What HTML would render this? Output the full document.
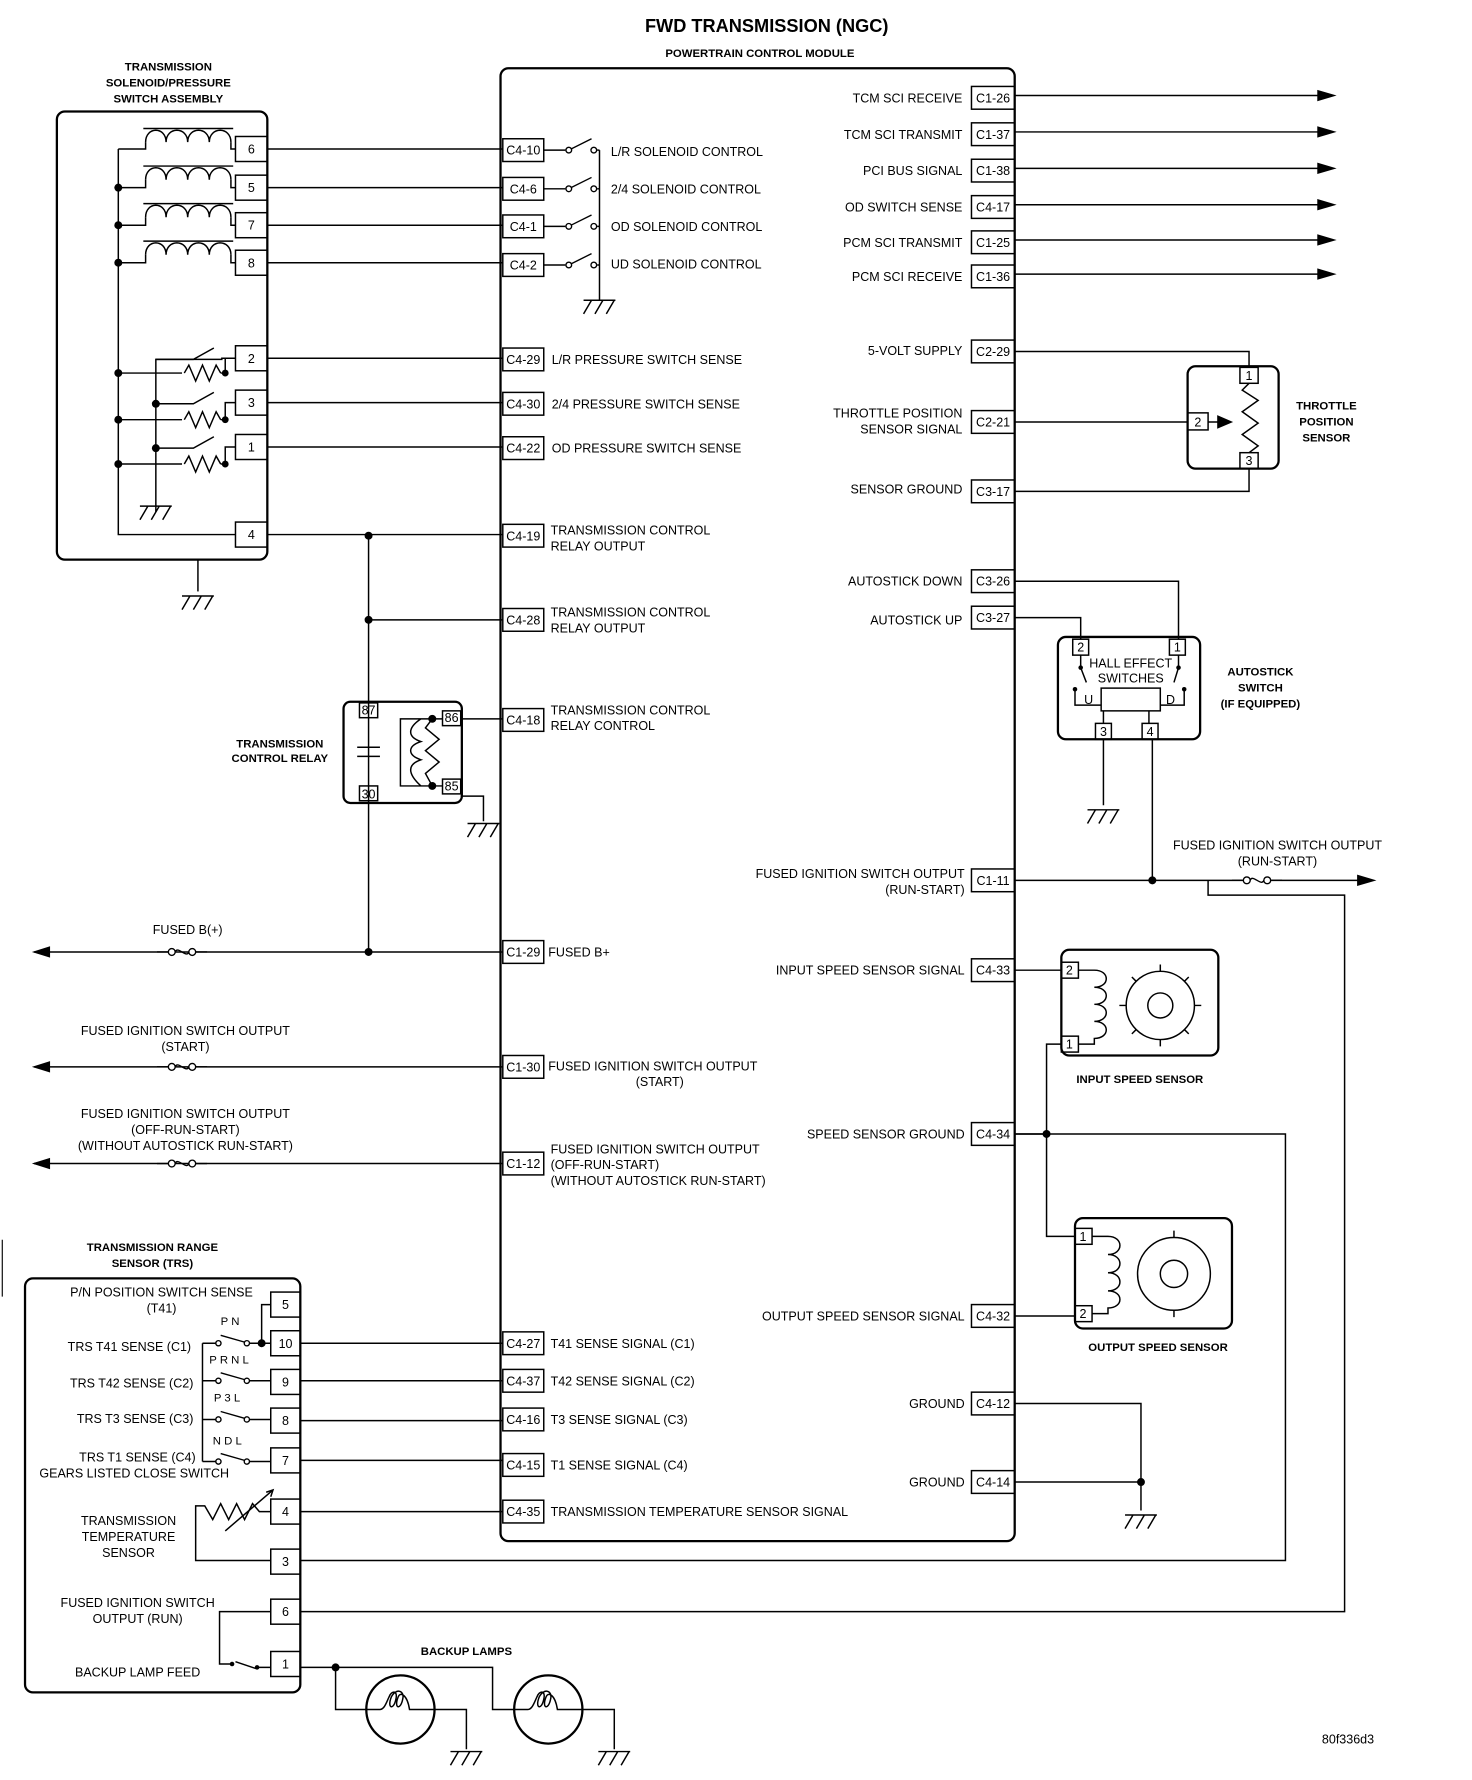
<!DOCTYPE html>
<html><head><meta charset="utf-8"><style>
html,body{margin:0;padding:0;background:#fff}
svg{display:block}
text{font-family:"Liberation Sans",sans-serif;font-size:11px;fill:#000}
.b{font-weight:bold;font-size:10.5px}
.r{text-anchor:end}.m{text-anchor:middle}
</style></head><body>
<svg width="1472" height="1780" viewBox="0 0 1294 1565" preserveAspectRatio="none" xmlns="http://www.w3.org/2000/svg">
<defs>
<g id="gnd" fill="none" stroke="#000" stroke-width="1.3"><path d="M-14 0H14M-14 12L-7 0M-4 12L3 0M6 12L13 0"/></g>
<g id="fuse" fill="none" stroke="#000" stroke-width="1.2"><circle cx="-9" cy="0" r="3" fill="#fff"/><circle cx="9" cy="0" r="3" fill="#fff"/><path d="M-22 0H-12M12 0H22M-6 0C-4 -6 4 6 6 0"/></g>
<g id="coil" fill="none" stroke="#000" stroke-width="1.3"><path d="M0 0C0 -14 18 -14 18 0C18 -14 37 -14 37 0C37 -14 56 -14 56 0C56 -14 75 -14 75 0M-2 -12H77"/></g>
<g id="res" fill="none" stroke="#000" stroke-width="1.3"><path d="M0 0L4 -7L10 7L16 -7L22 7L28 -7L32 0"/></g>
<g id="sw" fill="none" stroke="#000" stroke-width="1.2"><circle cx="0" cy="0" r="2.5" fill="#fff"/><circle cx="22" cy="0" r="2.5" fill="#fff"/><path d="M2 -1L20 -10"/></g>
<g id="tsw" fill="none" stroke="#000" stroke-width="1.2"><circle cx="0" cy="0" r="2.3" fill="#fff"/><circle cx="25" cy="0" r="2.3" fill="#fff"/><path d="M2 -7L23 -1"/></g>
</defs>
<text x="674" y="28" class="m" style="font-weight:bold;font-size:16px">FWD TRANSMISSION (NGC)</text>
<text x="668" y="50" class="m b" style="font-size:10px">POWERTRAIN CONTROL MODULE</text>
<text x="148" y="62" class="m b" style="font-size:10px">TRANSMISSION</text>
<text x="148" y="76" class="m b" style="font-size:10px">SOLENOID/PRESSURE</text>
<text x="148" y="90" class="m b" style="font-size:10px">SWITCH ASSEMBLY</text>

<g fill="none" stroke="#000" stroke-width="1.3">
<rect x="440" y="60" width="452" height="1295" rx="7" stroke-width="2"/>
<rect x="50" y="98" width="185" height="394" rx="7" stroke-width="2"/>
<rect x="207" y="120" width="28" height="22"/><rect x="207" y="154" width="28" height="22"/><rect x="207" y="187" width="28" height="22"/><rect x="207" y="220" width="28" height="22"/>
<rect x="207" y="304" width="28" height="22"/><rect x="207" y="343" width="28" height="22"/><rect x="207" y="382" width="28" height="22"/><rect x="207" y="459" width="28" height="22"/>
<use href="#coil" x="128" y="125"/><use href="#coil" x="128" y="158"/><use href="#coil" x="128" y="191"/><use href="#coil" x="128" y="224"/>
<path d="M104 131V470H207M104 131H128V125M203 125V131H207M104 165H128V158M203 158V165H207M104 198H128V191M203 191V198H207M104 231H128V224M203 224V231H207"/>
<path d="M104 328H160M104 369H160M104 408H160M137 328V450M137 369H160M137 328V316H195V315H207M160 328"/>
<use href="#res" x="162" y="328"/><use href="#res" x="162" y="369"/><use href="#res" x="162" y="408"/>
<path d="M194 328H198V315M194 369H198V354H207M194 408H198V393H207M137 316H170L188 306M137 355H170L188 345M137 394H170L188 384M198 315H207"/>
<use href="#gnd" x="137" y="445"/>
<path d="M174 492V520"/><use href="#gnd" x="174" y="524"/>
<path d="M235 131H442M235 165H442M235 198H442M235 231H442M235 315H442M235 354H442M235 393H442M235 470H442"/>
</g>
<g fill="#000"><circle cx="104" cy="165" r="3.5"/><circle cx="104" cy="198" r="3.5"/><circle cx="104" cy="231" r="3.5"/><circle cx="104" cy="328" r="3.5"/><circle cx="104" cy="369" r="3.5"/><circle cx="104" cy="408" r="3.5"/><circle cx="137" cy="355" r="3.5"/><circle cx="137" cy="394" r="3.5"/><circle cx="198" cy="328" r="3"/><circle cx="198" cy="369" r="3"/><circle cx="198" cy="408" r="3"/><circle cx="324" cy="471" r="3.5"/><circle cx="324" cy="545" r="3.5"/><circle cx="324" cy="837" r="3.5"/></g>
<g font-size="10"><text x="221" y="135" class="m">6</text><text x="221" y="169" class="m">5</text><text x="221" y="202" class="m">7</text><text x="221" y="235" class="m">8</text><text x="221" y="319" class="m">2</text><text x="221" y="358" class="m">3</text><text x="221" y="397" class="m">1</text><text x="221" y="474" class="m">4</text></g>

<g fill="none" stroke="#000" stroke-width="1.3">
<rect x="442" y="122" width="36" height="20"/><rect x="442" y="156" width="36" height="20"/><rect x="442" y="189" width="36" height="20"/><rect x="442" y="223" width="36" height="20"/>
<rect x="442" y="306" width="36" height="20"/><rect x="442" y="345" width="36" height="20"/><rect x="442" y="384" width="36" height="20"/><rect x="442" y="461" width="36" height="20"/>
<rect x="442" y="535" width="36" height="20"/><rect x="442" y="623" width="36" height="20"/><rect x="442" y="827" width="36" height="20"/><rect x="442" y="928" width="36" height="20"/>
<rect x="442" y="1013" width="36" height="20"/><rect x="442" y="1171" width="36" height="20"/><rect x="442" y="1204" width="36" height="20"/><rect x="442" y="1238" width="36" height="20"/>
<rect x="442" y="1278" width="36" height="20"/><rect x="442" y="1319" width="36" height="20"/>
<use href="#sw" x="500" y="132"/><use href="#sw" x="500" y="166"/><use href="#sw" x="500" y="199"/><use href="#sw" x="500" y="233"/>
<path d="M478 132H497M478 166H497M478 199H497M478 233H497M525 132H527M525 166H527M525 199H527M525 233H527M527 132V264"/>
<use href="#gnd" x="527" y="264"/>
</g>
<g font-size="10"><text x="460" y="136" class="m">C4-10</text><text x="460" y="170" class="m">C4-6</text><text x="460" y="203" class="m">C4-1</text><text x="460" y="237" class="m">C4-2</text><text x="460" y="320" class="m">C4-29</text><text x="460" y="359" class="m">C4-30</text><text x="460" y="398" class="m">C4-22</text><text x="460" y="475" class="m">C4-19</text><text x="460" y="549" class="m">C4-28</text><text x="460" y="637" class="m">C4-18</text><text x="460" y="841" class="m">C1-29</text><text x="460" y="942" class="m">C1-30</text><text x="460" y="1027" class="m">C1-12</text><text x="460" y="1185" class="m">C4-27</text><text x="460" y="1218" class="m">C4-37</text><text x="460" y="1252" class="m">C4-16</text><text x="460" y="1292" class="m">C4-15</text><text x="460" y="1333" class="m">C4-35</text></g>
<text x="537" y="137">L/R SOLENOID CONTROL</text><text x="537" y="170">2/4 SOLENOID CONTROL</text><text x="537" y="203">OD SOLENOID CONTROL</text><text x="537" y="236">UD SOLENOID CONTROL</text>
<text x="485" y="320">L/R PRESSURE SWITCH SENSE</text><text x="485" y="359">2/4 PRESSURE SWITCH SENSE</text><text x="485" y="398">OD PRESSURE SWITCH SENSE</text>
<text x="484" y="470">TRANSMISSION CONTROL</text><text x="484" y="484">RELAY OUTPUT</text>
<text x="484" y="542">TRANSMISSION CONTROL</text><text x="484" y="556">RELAY OUTPUT</text>
<text x="484" y="628">TRANSMISSION CONTROL</text><text x="484" y="642">RELAY CONTROL</text>
<text x="482" y="841">FUSED B+</text>
<text x="482" y="941">FUSED IGNITION SWITCH OUTPUT</text><text x="580" y="955" class="m">(START)</text>
<text x="484" y="1014">FUSED IGNITION SWITCH OUTPUT</text><text x="484" y="1028">(OFF-RUN-START)</text><text x="484" y="1042">(WITHOUT AUTOSTICK RUN-START)</text>
<text x="484" y="1185">T41 SENSE SIGNAL (C1)</text><text x="484" y="1218">T42 SENSE SIGNAL (C2)</text><text x="484" y="1252">T3 SENSE SIGNAL (C3)</text><text x="484" y="1292">T1 SENSE SIGNAL (C4)</text><text x="484" y="1333">TRANSMISSION TEMPERATURE SENSOR SIGNAL</text>

<g fill="none" stroke="#000" stroke-width="1.3">
<path d="M324 471V837M324 545H442M30 837H442M30 938H442M30 1023H442"/>
<rect x="302" y="617" width="104" height="89" rx="6" stroke-width="2"/>
<rect x="316" y="618" width="16" height="13"/><rect x="316" y="691" width="16" height="13"/><rect x="389" y="625" width="16" height="13"/><rect x="389" y="685" width="16" height="13"/>
<path d="M314 657H334M314 665H334"/>
<path d="M380 632H389M380 691H389M380 632H352V691H380M370 632C358 640 358 648 370 652C358 656 358 664 370 668C358 672 358 680 370 691"/>
<path d="M380 632L374 640L386 650L374 660L386 670L374 680L380 691"/>
<path d="M405 632H442M405 700H425V722"/>
<use href="#gnd" x="425" y="724"/>
<use href="#fuse" x="160" y="837"/><use href="#fuse" x="160" y="938"/><use href="#fuse" x="160" y="1023"/>
</g>
<g fill="#000"><circle cx="380" cy="632" r="3.5"/><circle cx="380" cy="691" r="3.5"/>
<path d="M28 837L44 832V842Z"/><path d="M28 938L44 933V943Z"/><path d="M28 1023L44 1018V1028Z"/></g>
<g font-size="9"><text x="324" y="628" class="m">87</text><text x="324" y="702" class="m">30</text><text x="397" y="635" class="m">86</text><text x="397" y="695" class="m">85</text></g>
<text x="246" y="657" class="m b" style="font-size:10px">TRANSMISSION</text><text x="246" y="670" class="m b" style="font-size:10px">CONTROL RELAY</text>
<text x="165" y="821" class="m">FUSED B(+)</text>
<text x="163" y="910" class="m">FUSED IGNITION SWITCH OUTPUT</text><text x="163" y="924" class="m">(START)</text>
<text x="163" y="983" class="m">FUSED IGNITION SWITCH OUTPUT</text><text x="163" y="997" class="m">(OFF-RUN-START)</text><text x="163" y="1011" class="m">(WITHOUT AUTOSTICK RUN-START)</text>

<!-- TRS -->
<text x="134" y="1100" class="m b" style="font-size:10px">TRANSMISSION RANGE</text><text x="134" y="1114" class="m b" style="font-size:10px">SENSOR (TRS)</text>
<g fill="none" stroke="#000" stroke-width="1.3">
<path d="M2 1090V1140" stroke-width="1"/>
<rect x="22" y="1124" width="242" height="364" rx="7" stroke-width="2"/>
<rect x="238" y="1136" width="26" height="22"/><rect x="238" y="1170" width="26" height="22"/><rect x="238" y="1204" width="26" height="22"/><rect x="238" y="1238" width="26" height="22"/><rect x="238" y="1273" width="26" height="22"/><rect x="238" y="1318" width="26" height="22"/><rect x="238" y="1362" width="26" height="22"/><rect x="238" y="1406" width="26" height="22"/><rect x="238" y="1452" width="26" height="22"/>
<path d="M238 1147H230V1181"/>
<path d="M178 1181V1285M178 1181H190M178 1214H190M178 1248H190M178 1285H190"/>
<use href="#tsw" x="192" y="1181"/><use href="#tsw" x="192" y="1214"/><use href="#tsw" x="192" y="1248"/><use href="#tsw" x="192" y="1285"/>
<path d="M219 1181H238M219 1214H238M219 1248H238M219 1285H238"/>
<path d="M264 1181H442M264 1214H442M264 1249H442M264 1284H442M264 1329H442"/>
<path d="M238 1329H228L222 1322L215 1336L208 1322L201 1336L194 1322L187 1336L180 1324H172V1372H238"/>
<path d="M198 1346L240 1310" /><path d="M234 1312L240 1310L238 1316"/>
<path d="M264 1372H1130V997H892M264 1417H1182V787H1062V774"/>
<path d="M238 1417H193V1463H203M207 1461L225 1467M226 1466H238"/>
<path d="M264 1466H433V1503H452M295 1466V1503H322M382 1503H410V1538M512 1503H540V1538"/>
<circle cx="352" cy="1503" r="30" stroke-width="2"/><circle cx="482" cy="1503" r="30" stroke-width="2"/>
<path d="M322 1503H334C338 1503 340 1496 342 1492C344 1486 350 1486 348 1494C346 1504 340 1502 344 1492C348 1484 356 1486 354 1494C352 1504 346 1502 350 1492C352 1487 358 1490 360 1503H382"/>
<path d="M452 1503H464C468 1503 470 1496 472 1492C474 1486 480 1486 478 1494C476 1504 470 1502 474 1492C478 1484 486 1486 484 1494C482 1504 476 1502 480 1492C482 1487 488 1490 490 1503H512"/>
<use href="#gnd" x="410" y="1540"/><use href="#gnd" x="540" y="1540"/>
</g>
<g fill="#000"><circle cx="230" cy="1181" r="3.5"/><circle cx="295" cy="1466" r="3.5"/><circle cx="204" cy="1463" r="2"/><circle cx="226" cy="1466" r="2"/></g>
<g font-size="10"><text x="251" y="1151" class="m">5</text><text x="251" y="1185" class="m">10</text><text x="251" y="1219" class="m">9</text><text x="251" y="1253" class="m">8</text><text x="251" y="1288" class="m">7</text><text x="251" y="1333" class="m">4</text><text x="251" y="1377" class="m">3</text><text x="251" y="1421" class="m">6</text><text x="251" y="1467" class="m">1</text></g>
<text x="142" y="1140" class="m">P/N POSITION SWITCH SENSE</text><text x="142" y="1154" class="m">(T41)</text>
<text x="194" y="1165" style="font-size:10px">P N</text><text x="184" y="1199" style="font-size:10px">P R N L</text><text x="188" y="1232" style="font-size:10px">P 3 L</text><text x="187" y="1270" style="font-size:10px">N D L</text>
<text x="168" y="1188" class="r">TRS T41 SENSE (C1)</text><text x="170" y="1220" class="r">TRS T42 SENSE (C2)</text><text x="170" y="1251" class="r">TRS T3 SENSE (C3)</text><text x="172" y="1285" class="r">TRS T1 SENSE (C4)</text>
<text x="118" y="1299" class="m">GEARS LISTED CLOSE SWITCH</text>
<text x="113" y="1341" class="m">TRANSMISSION</text><text x="113" y="1355" class="m">TEMPERATURE</text><text x="113" y="1369" class="m">SENSOR</text>
<text x="121" y="1413" class="m">FUSED IGNITION SWITCH</text><text x="121" y="1427" class="m">OUTPUT (RUN)</text>
<text x="121" y="1474" class="m">BACKUP LAMP FEED</text>
<text x="410" y="1455" class="m b" style="font-size:10px">BACKUP LAMPS</text>
<text x="1185" y="1533" class="m">80f336d3</text>

<g fill="none" stroke="#000" stroke-width="1.3">
<rect x="854" y="76" width="38" height="20"/><rect x="854" y="108" width="38" height="20"/><rect x="854" y="140" width="38" height="20"/><rect x="854" y="172" width="38" height="20"/><rect x="854" y="203" width="38" height="20"/><rect x="854" y="233" width="38" height="20"/>
<rect x="854" y="299" width="38" height="20"/><rect x="854" y="361" width="38" height="20"/><rect x="854" y="422" width="38" height="20"/><rect x="854" y="501" width="38" height="20"/><rect x="854" y="533" width="38" height="20"/><rect x="854" y="764" width="38" height="20"/>
<rect x="854" y="843" width="38" height="20"/><rect x="854" y="987" width="38" height="20"/><rect x="854" y="1147" width="38" height="20"/><rect x="854" y="1224" width="38" height="20"/><rect x="854" y="1293" width="38" height="20"/>
<path d="M892 84H1160M892 116H1160M892 148H1160M892 180H1160M892 211H1160M892 241H1160"/>
<path d="M892 309H1098V323M892 371H1044M892 432H1098V412M892 511H1036V562M892 543H950V562M970 650V708M1013 650V774M892 774H1095M1115 774H1195M892 853H933M892 997H920M920 997V918H933M920 997V1087H945M892 1157H945M892 1234H1003V1328M892 1303H1003"/>
<use href="#gnd" x="970" y="712"/><use href="#gnd" x="1003" y="1332"/>
<use href="#fuse" x="1105" y="774"/>
<rect x="1044" y="322" width="80" height="90" rx="7" stroke-width="2"/>
<rect x="1090" y="323" width="16" height="14"/><rect x="1090" y="398" width="16" height="14"/><rect x="1044" y="363" width="18" height="15"/>
<path d="M1098 337L1092 343L1106 352L1092 362L1106 372L1092 382L1106 392L1098 398M1062 371H1082"/>
<rect x="930" y="560" width="125" height="90" rx="7" stroke-width="2"/>
<rect x="943" y="562" width="14" height="14"/><rect x="1028" y="562" width="14" height="14"/><rect x="963" y="636" width="14" height="14"/><rect x="1004" y="636" width="14" height="14"/>
<rect x="968" y="605" width="52" height="20"/>
<path d="M950 576V587L955 600M1036 576V587L1032 600M945 606V620H968M1041 606V620H1020M970 625V636M1010 625V636"/>
<rect x="933" y="835" width="138" height="93" rx="7" stroke-width="2"/>
<rect x="933" y="846" width="15" height="14"/><rect x="933" y="911" width="15" height="14"/>
<path d="M948 853H962C976 853 976 868 962 868C976 868 976 883 962 883C976 883 976 898 962 898C976 898 976 913 962 913V918H948"/>
<circle cx="1020" cy="884" r="30"/><circle cx="1020" cy="884" r="11"/>
<path d="M1020 848V854M1020 914V920M984 884H990M1050 884H1056M995 859L999 863M1045 859L1041 863M995 909L999 905M1045 909L1041 905"/>
<rect x="945" y="1071" width="138" height="97" rx="7" stroke-width="2"/>
<rect x="945" y="1080" width="15" height="14"/><rect x="945" y="1148" width="15" height="14"/>
<path d="M960 1087H974C988 1087 988 1103 974 1103C988 1103 988 1119 974 1119C988 1119 988 1135 974 1135C988 1135 988 1150 974 1150V1155H960"/>
<circle cx="1032" cy="1120" r="32"/><circle cx="1032" cy="1120" r="12"/>
<path d="M1032 1082V1088M1032 1152V1158"/>
</g>
<g fill="#000">
<path d="M1175 84L1158 79V89Z"/><path d="M1175 116L1158 111V121Z"/><path d="M1175 148L1158 143V153Z"/><path d="M1175 180L1158 175V185Z"/><path d="M1175 211L1158 206V216Z"/><path d="M1175 241L1158 236V246Z"/>
<path d="M1210 774L1193 769V779Z"/><path d="M1084 371L1070 365V377Z"/>
<circle cx="1013" cy="774" r="3.5"/><circle cx="920" cy="997" r="3.5"/><circle cx="1003" cy="1303" r="3.5"/>
<circle cx="950" cy="587" r="2"/><circle cx="1036" cy="587" r="2"/><circle cx="945" cy="606" r="2"/><circle cx="1041" cy="606" r="2"/>
</g>
<g font-size="10"><text x="873" y="90" class="m">C1-26</text><text x="873" y="122" class="m">C1-37</text><text x="873" y="154" class="m">C1-38</text><text x="873" y="186" class="m">C4-17</text><text x="873" y="217" class="m">C1-25</text><text x="873" y="247" class="m">C1-36</text><text x="873" y="313" class="m">C2-29</text><text x="873" y="375" class="m">C2-21</text><text x="873" y="436" class="m">C3-17</text><text x="873" y="515" class="m">C3-26</text><text x="873" y="547" class="m">C3-27</text><text x="873" y="778" class="m">C1-11</text><text x="873" y="857" class="m">C4-33</text><text x="873" y="1001" class="m">C4-34</text><text x="873" y="1161" class="m">C4-32</text><text x="873" y="1238" class="m">C4-12</text><text x="873" y="1307" class="m">C4-14</text>
<text x="1098" y="334" class="m">1</text><text x="1098" y="409" class="m">3</text><text x="1053" y="375" class="m">2</text>
<text x="950" y="573" class="m">2</text><text x="1035" y="573" class="m">1</text><text x="970" y="647" class="m">3</text><text x="1011" y="647" class="m">4</text>
<text x="957" y="619" class="m">U</text><text x="1029" y="619" class="m">D</text>
<text x="940" y="857" class="m">2</text><text x="940" y="922" class="m">1</text><text x="952" y="1091" class="m">1</text><text x="952" y="1159" class="m">2</text></g>
<text x="846" y="90" class="r">TCM SCI RECEIVE</text><text x="846" y="122" class="r">TCM SCI TRANSMIT</text><text x="846" y="154" class="r">PCI BUS SIGNAL</text><text x="846" y="186" class="r">OD SWITCH SENSE</text><text x="846" y="217" class="r">PCM SCI TRANSMIT</text><text x="846" y="247" class="r">PCM SCI RECEIVE</text>
<text x="846" y="312" class="r">5-VOLT SUPPLY</text><text x="846" y="367" class="r">THROTTLE POSITION</text><text x="846" y="381" class="r">SENSOR SIGNAL</text><text x="846" y="434" class="r">SENSOR GROUND</text>
<text x="846" y="515" class="r">AUTOSTICK DOWN</text><text x="846" y="549" class="r">AUTOSTICK UP</text>
<text x="848" y="772" class="r">FUSED IGNITION SWITCH OUTPUT</text><text x="848" y="786" class="r">(RUN-START)</text>
<text x="848" y="857" class="r">INPUT SPEED SENSOR SIGNAL</text><text x="848" y="1001" class="r">SPEED SENSOR GROUND</text><text x="848" y="1161" class="r">OUTPUT SPEED SENSOR SIGNAL</text><text x="848" y="1238" class="r">GROUND</text><text x="848" y="1307" class="r">GROUND</text>
<text x="1166" y="360" class="m b" style="font-size:10px">THROTTLE</text><text x="1166" y="374" class="m b" style="font-size:10px">POSITION</text><text x="1166" y="388" class="m b" style="font-size:10px">SENSOR</text>
<text x="994" y="587" class="m">HALL EFFECT</text><text x="994" y="600" class="m">SWITCHES</text>
<text x="1108" y="594" class="m b" style="font-size:10px">AUTOSTICK</text><text x="1108" y="608" class="m b" style="font-size:10px">SWITCH</text><text x="1108" y="622" class="m b" style="font-size:10px">(IF EQUIPPED)</text>
<text x="1123" y="747" class="m">FUSED IGNITION SWITCH OUTPUT</text><text x="1123" y="761" class="m">(RUN-START)</text>
<text x="1002" y="952" class="m b" style="font-size:10px">INPUT SPEED SENSOR</text><text x="1018" y="1188" class="m b" style="font-size:10px">OUTPUT SPEED SENSOR</text>
</svg>
</body></html>
